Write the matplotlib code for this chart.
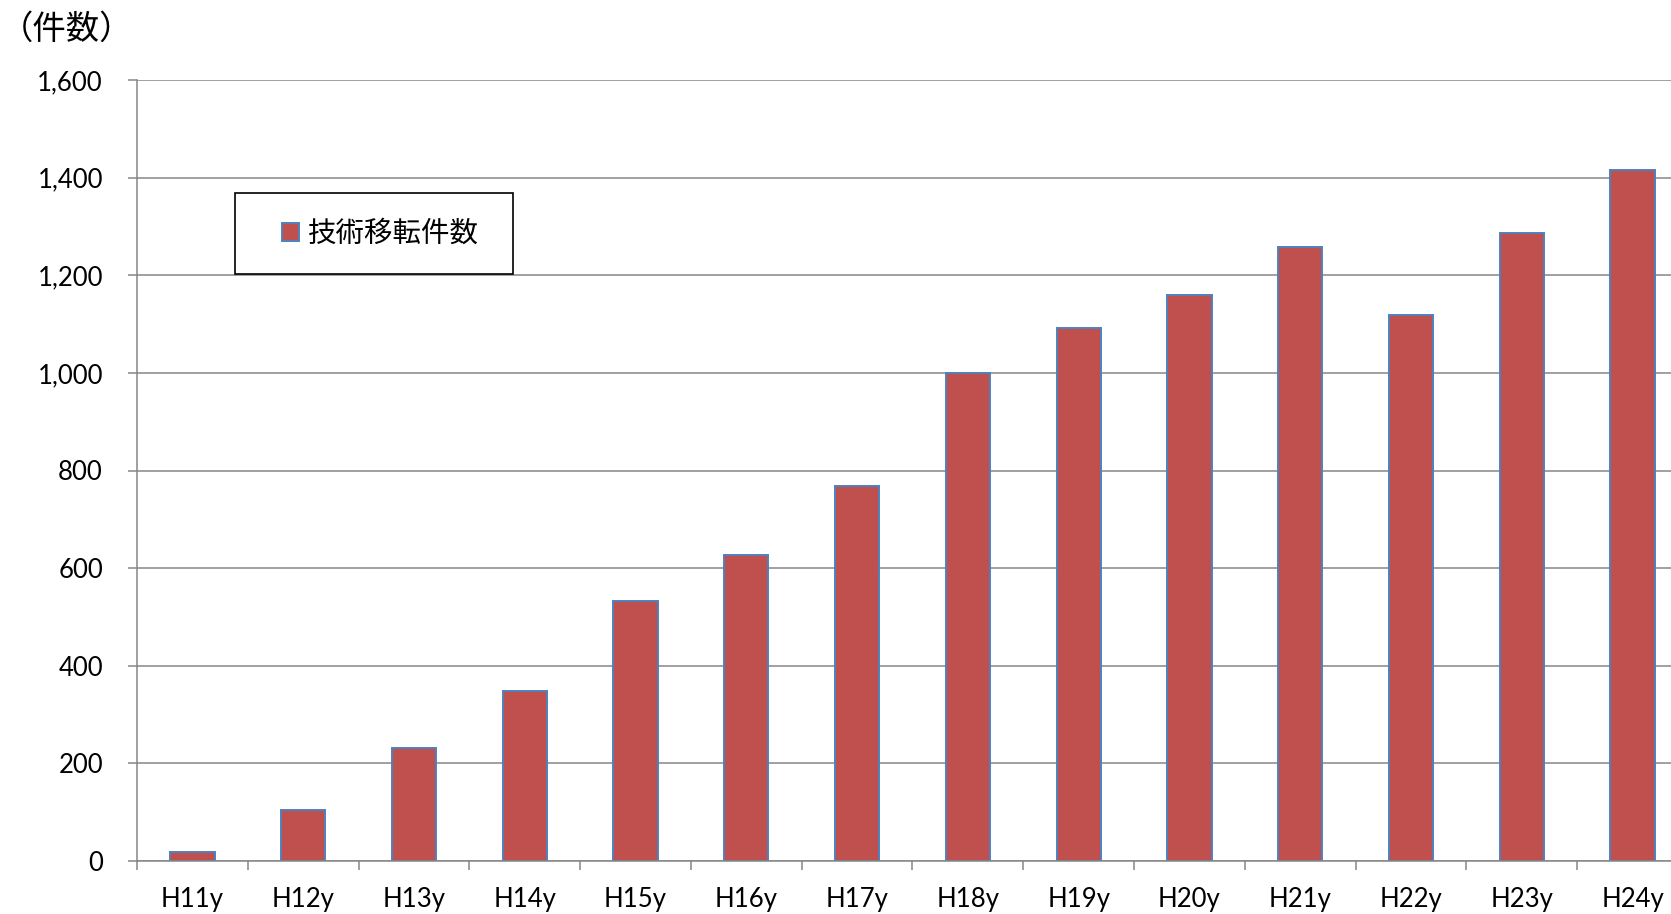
import matplotlib
matplotlib.use("Agg")
import matplotlib.pyplot as plt
import matplotlib.ticker as mticker
from matplotlib.patches import Rectangle
import numpy as np

plt.rcParams['font.family'] = ['Lato', 'Noto Sans CJK JP', 'DejaVu Sans']

# technology transfer counts by fiscal year
years = ['H11y', 'H12y', 'H13y', 'H14y', 'H15y', 'H16y', 'H17y',
         'H18y', 'H19y', 'H20y', 'H21y', 'H22y', 'H23y', 'H24y']
counts = [18, 105, 231, 348, 532, 627, 768,
          1000, 1092, 1160, 1257, 1119, 1287, 1416]
series_name = '技術移転件数'
unit_label = '（件数）'
yticks = [0, 200, 400, 600, 800, 1000, 1200, 1400, 1600]

W, H = 1671, 914
fig = plt.figure(figsize=(W / 100, H / 100), dpi=100)
# plot area runs slightly past the right edge of the figure
ax = fig.add_axes([137 / W, 1 - 861 / H, 1551 / W, 781 / H])

grey = '#868686'
x = np.arange(len(years)) + 0.5
bars = ax.bar(x, counts, width=0.4, color='#C0504D', edgecolor='#4F81BD',
              linewidth=1.4, label=series_name, zorder=3)

ax.set_xlim(0, len(years))
ax.set_ylim(0, 1600)
ax.set_yticks(yticks)
ax.yaxis.set_major_formatter(mticker.FuncFormatter(lambda v, p: f'{int(v):,}'))
ax.grid(axis='y', color=grey, linewidth=1.1, zorder=0)

# category boundaries get tick marks, centres get the labels
ax.set_xticks(np.arange(len(years) + 1))
ax.set_xticklabels([])
ax.set_xticks(x, minor=True)
ax.set_xticklabels(years, minor=True)
ax.tick_params(axis='x', which='major', length=6.5, width=1.1, color=grey)
ax.tick_params(axis='x', which='minor', length=0, pad=19, labelsize=18.5)
ax.tick_params(axis='y', length=6.5, width=1.1, color=grey, pad=18, labelsize=18.5)

for s in ['top', 'right']:
    ax.spines[s].set_visible(False)
for s in ['left', 'bottom']:
    ax.spines[s].set_color(grey)
    ax.spines[s].set_linewidth(1.1)
    ax.spines[s].set_zorder(4)

fig.text(0 / W, 1 - 29 / H, unit_label, fontsize=24, va='center', ha='left',
         family=['Noto Sans CJK JP', 'DejaVu Sans'])

# legend inside a plain black box
fig.patches.append(Rectangle((235 / W, 1 - 274 / H), 278 / W, 81 / H,
                             transform=fig.transFigure, fill=False,
                             edgecolor='black', linewidth=1.2, zorder=5))
leg = ax.legend(loc='center left', bbox_to_anchor=(282 / W, 1 - 234 / H),
                bbox_transform=fig.transFigure, frameon=False, borderpad=0,
                borderaxespad=0, handlelength=0.6, handleheight=0.6,
                handletextpad=0.3,
                prop={'family': ['Noto Sans CJK JP', 'DejaVu Sans'], 'size': 20.5})

fig.savefig('out.png', dpi=100)
